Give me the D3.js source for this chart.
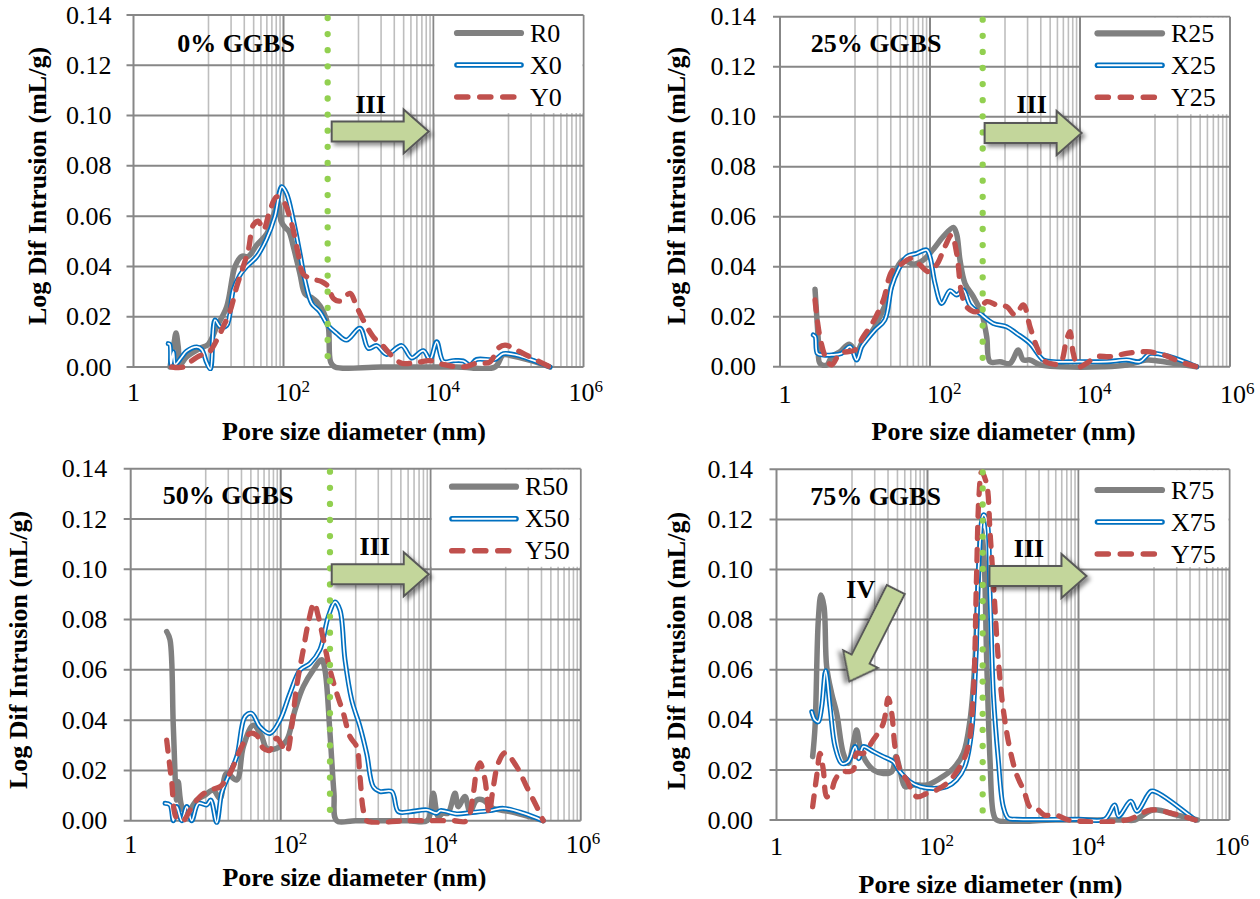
<!DOCTYPE html>
<html><head><meta charset="utf-8">
<script src="https://cdn.jsdelivr.net/npm/d3@7"></script>
<style>
html,body{margin:0;padding:0;background:#fff;}
svg{display:block;}
</style></head><body>
<svg id="chart" width="1260" height="899" font-family="'Liberation Serif', 'Times New Roman', Tinos, 'Nimbus Roman', 'DejaVu Serif', serif"></svg>
<script>
// ================= DATA =================
const panelTitles = ["0% GGBS", "25% GGBS", "50% GGBS", "75% GGBS"];
const seriesNames = [["R0","X0","Y0"],["R25","X25","Y25"],["R50","X50","Y50"],["R75","X75","Y75"]];
const yTicks = [0, 0.02, 0.04, 0.06, 0.08, 0.10, 0.12, 0.14];
const yTickLabels = ["0.00","0.02","0.04","0.06","0.08","0.10","0.12","0.14"];
const xTickExponents = [0, 2, 4, 6];
const xTitle = "Pore size diameter (nm)";
const yTitle = "Log Dif Intrusion (mL/g)";
const boundaryNm = [388, 504, 454, 538];   // green dotted boundary per panel (nm)

// [pore diameter (nm), log differential intrusion (mL/g)]
const R0 = [[3.07,0],[3.45,0.009],[3.69,0.0135],[3.95,0.008],[4.2,0.001],[5.1,0.004],[7.7,0.0074],[9.9,0.009],[12.9,0.016],[17.5,0.024],[22.6,0.040],[27.7,0.044],[34,0.044],[44,0.0485],[60,0.053],[73,0.060],[85,0.0655],[93,0.058],[105,0.0555],[118,0.054],[135,0.048],[166,0.037],[194,0.029],[240,0.0275],[277,0.026],[340,0.022],[396,0.016],[425,0.002],[486,0],[2000,0],[20000,0],[66000,0],[84500,0.0048],[105000,0.0046],[200000,0.0025],[357000,0]];
const X0 = [[2.9,0.0093],[3.05,0.009],[3.15,0.001],[3.4,0.006],[3.6,0.001],[4.4,0.004],[5.1,0.0063],[7.0,0.008],[8.1,0.007],[9.5,0.0016],[10.6,-0.0008],[12.2,0.0187],[14.3,0.016],[17.5,0.0165],[21.4,0.0306],[26.3,0.0366],[32.3,0.040],[44,0.0439],[59.7,0.051],[76.9,0.060],[94.6,0.0717],[110,0.069],[134.6,0.0586],[165.6,0.0452],[193,0.0346],[238,0.0253],[305,0.022],[393,0.0165],[510,0.0134],[690,0.0107],[1047,0.0154],[1352,0.0074],[1750,0.0085],[2377,0.005],[3767,0.0085],[5117,0.0036],[7307,0.0065],[8980,0.003],[11040,0.010],[13520,0.0022],[18350,0.0025],[24950,0.0024],[30670,0.0008],[37660,0.003],[66070,0.003],[85300,0.0053],[128600,0.0047],[357500,0]];
const Y0 = [[3.23,0],[4.6,0],[5.67,0.002],[7.7,0.0045],[9.9,0.0055],[12.9,0.0107],[15.7,0.016],[19.3,0.022],[23.8,0.032],[29.1,0.040],[34,0.0465],[39.6,0.0565],[46.1,0.058],[53.8,0.0545],[66,0.0624],[81,0.0677],[99.3,0.066],[128.5,0.057],[157,0.045],[183.6,0.037],[237.7,0.035],[323,0.034],[395,0.032],[461,0.0273],[567,0.0262],[770,0.0293],[946,0.024],[1158,0.0186],[1575,0.012],[2142,0.0082],[2772,0.0045],[3767,0.0015],[5970,0.0018],[8980,0.0025],[13520,0.001],[24950,0],[37660,0.0015],[56640,0.002],[73100,0.0075],[89800,0.0087],[128600,0.0067],[193600,0.004],[357500,0]];

const R25 = [[2.93,0.031],[3.24,0.0107],[3.41,0.0013],[4.2,0.0007],[4.9,0.004],[6.3,0.006],[8.4,0.009],[10.5,0.006],[12.9,0.0107],[16.7,0.014],[21.5,0.020],[27.8,0.028],[36,0.0393],[44,0.0427],[60,0.041],[81.5,0.0427],[110.8,0.047],[150,0.052],[205,0.0557],[227,0.053],[251,0.0427],[293,0.0333],[378,0.028],[489,0.0213],[570,0.012],[631,0.002],[858,0.002],[1166,0.0013],[1506,0.0067],[1754,0.0027],[2154,0.0027],[2929,0.0007],[5412,0],[20480,0],[41900,0.0007],[77400,0.0027],[158500,0.0016],[359000,0]];
const X25 = [[2.78,0.0127],[2.95,0.012],[3.15,0.0053],[3.8,0.0047],[4.9,0.0047],[6.6,0.0053],[8.6,0.008],[10.5,0.0027],[12.3,0.008],[14.3,0.0107],[18.5,0.0147],[25,0.0187],[30.8,0.032],[37.8,0.0387],[48.9,0.044],[66.4,0.0453],[90.3,0.0467],[100,0.044],[116.6,0.0333],[143,0.0253],[185,0.0304],[227,0.0287],[278,0.0307],[341,0.0247],[464,0.0213],[699,0.0173],[1052,0.016],[1431,0.0133],[2154,0.0093],[3245,0.0027],[4407,0.002],[10000,0.002],[22700,0.002],[41900,0.0027],[63100,0.002],[85800,0.0053],[158500,0.004],[359000,0]];
const Y25 = [[2.93,0.0267],[3.4,0.012],[4.2,0.0027],[4.9,0.0007],[6.3,0.0053],[10,0.0067],[12.9,0.012],[17.5,0.018],[23.9,0.0267],[30.8,0.038],[39.8,0.0407],[56.8,0.0433],[73.6,0.0407],[95,0.038],[122,0.0407],[158,0.048],[194,0.0527],[227,0.0453],[264,0.0293],[306,0.024],[417,0.022],[570,0.026],[777,0.0247],[1052,0.024],[1365,0.0207],[1754,0.0247],[2154,0.016],[2650,0.008],[3245,0.0027],[3981,0.0013],[5412,0.0013],[6600,0.0107],[7350,0.014],[8140,0.0053],[9460,0],[12160,0.0013],[16500,0.004],[25100,0.004],[41900,0.0053],[77400,0.006],[131000,0.0047],[215000,0.002],[359000,0]];

const R50 = [[3.02,0.0752],[3.34,0.072],[3.7,0.0374],[4.1,0.0082],[4.3,0.0155],[4.8,0.0056],[5.6,0.003],[7.6,0.0082],[9.8,0.0102],[12.6,0.0122],[15.5,0.0088],[19,0.0188],[25.9,0.0162],[31.7,0.0294],[43,0.038],[55.8,0.0334],[65,0.0288],[88.4,0.0288],[120,0.032],[155,0.044],[200,0.0533],[272,0.060],[352,0.064],[389,0.060],[454,0.0348],[513,0.0109],[558,0],[1000,0],[5000,0],[9000,0],[10800,0.0109],[12600,0.0016],[14500,0.003],[17000,0.003],[21100,0.0109],[23300,0.0056],[28600,0.0096],[33400,0.0036],[41000,0.0082],[50100,0.0082],[68400,0.0049],[114000,0.0036],[316000,0]];
const X50 = [[2.87,0.0069],[3.34,0.0063],[3.7,0],[4.1,0.0056],[4.8,0],[5.6,0.0056],[6.5,0],[7.98,0.0069],[10.3,0.0063],[11.7,0.0082],[14,-0.0008],[16.3,0.0109],[19,0.0162],[25.9,0.0254],[33.4,0.0414],[41,0.0427],[52.7,0.0374],[71.8,0.0347],[97.7,0.040],[133,0.0507],[182,0.060],[247,0.0626],[333,0.068],[431,0.0812],[530,0.087],[617,0.0838],[720,0.064],[885,0.048],[1141,0.0374],[1400,0.0267],[1718,0.0135],[2110,0.0116],[3020,0.0116],[3700,0.0036],[5300,0.0036],[8850,0.0043],[12000,0.003],[13500,0.004],[22200,0.0027],[33400,0.0032],[61700,0.004],[93000,0.0049],[172000,0.003],[316000,0]];
const Y50 = [[3.02,0.032],[3.5,0.0162],[4.1,0.001],[5.0,0],[6.2,0.0043],[8.4,0.0096],[11.4,0.0122],[15.5,0.0135],[21,0.0188],[28.6,0.028],[39,0.0347],[47.7,0.034],[58.6,0.0288],[71.8,0.028],[88,0.0328],[120,0.0274],[140,0.0374],[163,0.0533],[200,0.068],[233,0.0786],[278,0.0865],[318,0.0812],[372,0.0719],[454,0.060],[558,0.0507],[685,0.0427],[840,0.0334],[1030,0.0294],[1140,0.0175],[1260,0.0043],[1400,0],[5000,0],[20000,0],[30000,0],[37000,0.0109],[41000,0.020],[45400,0.023],[53000,0.0162],[60000,0.003],[68400,0.0135],[79400,0.0228],[97700,0.027],[140000,0.0215],[190500,0.0135],[259000,0.0056],[316000,0]];

const R75 = [[3.01,0.0253],[3.24,0.0372],[3.58,0.0798],[3.88,0.0898],[4.26,0.0852],[4.62,0.0612],[5.38,0.0505],[6.27,0.0426],[7.67,0.0266],[8.93,0.0226],[10.4,0.0306],[11.5,0.0359],[12.8,0.0293],[14.9,0.024],[19.2,0.020],[26,0.0186],[33.6,0.0193],[38.3,0.0253],[43.2,0.020],[50.4,0.0133],[64.9,0.014],[97.7,0.014],[146,0.0166],[220,0.0206],[298,0.0266],[366,0.0399],[426,0.0639],[471,0.097],[515,0.116],[560,0.105],[608,0.064],[673,0.024],[745,0.0027],[825,0],[5000,0],[40000,0],[55700,0],[97000,0.004],[200000,0.002],[377000,0]];
const X75 = [[2.93,0.0432],[3.24,0.0399],[3.58,0.0392],[3.97,0.0452],[4.48,0.0596],[5.11,0.0452],[5.96,0.0293],[7.3,0.0226],[8.93,0.0233],[11,0.0293],[12.3,0.0245],[14.1,0.0293],[19.2,0.0273],[26,0.0253],[35.2,0.0233],[43.2,0.0193],[58.6,0.0153],[80,0.0133],[118,0.0126],[180,0.0133],[242,0.016],[312,0.0213],[382,0.0346],[437,0.0639],[482,0.1038],[550,0.1218],[608,0.12],[673,0.0905],[745,0.0505],[867,0.024],[1009,0.0053],[1175,0.0007],[1500,0.0003],[10000,0.0003],[22200,0.0003],[30200,0.006],[34000,0.0015],[49300,0.0075],[59400,0.0035],[91200,0.0115],[110000,0.011],[353000,0]];
const Y75 = [[3.01,0.0053],[3.4,0.0173],[3.77,0.0266],[4.17,0.020],[4.62,0.0093],[5.22,0.0106],[5.96,0.016],[7.3,0.0193],[8.93,0.0193],[10.4,0.020],[11.5,0.0266],[14.1,0.0266],[19.2,0.032],[26,0.0386],[30.2,0.0486],[33.6,0.0426],[37.1,0.0293],[43.2,0.020],[53,0.016],[72,0.0093],[97.7,0.0106],[132,0.012],[180,0.0146],[270,0.0213],[346,0.0293],[405,0.0506],[446,0.097],[482,0.130],[522,0.139],[608,0.134],[673,0.115],[745,0.095],[867,0.064],[1009,0.044],[1240,0.028],[1520,0.018],[1900,0.0115],[2300,0.005],[2800,0.0045],[3500,0.002],[5000,0.002],[7500,0],[43600,0],[91200,0.004],[180000,0.0025],[353000,0]];

const panelData = [[R0, X0, Y0], [R25, X25, Y25], [R50, X50, Y50], [R75, X75, Y75]];

// ================= LAYOUT =================
const layout = [
  {left:133.5, right:583.5, top:15,   bottom:367,   yLabX:-22, yTitle:[46,186],  xLabBase:401, xLabShift:0, xTitle:[354,439.5], title:[236,51.7], leg:{x1:454,x2:524,tx:530,y0:33},   arrow:{nm:439, v:0.0937, tx:39, ty:-18}},
  {left:780,   right:1230,  top:16.7, bottom:366.7, yLabX:-24, yTitle:[685,186], xLabBase:403, xLabShift:5, xTitle:[1003.6,440], title:[876,51.7], leg:{x1:1094.5,x2:1165,tx:1171,y0:33.3}, arrow:{nm:535, v:0.0935, tx:47, ty:-20}},
  {left:130.7, right:580.7, top:468.7,bottom:820.7, yLabX:-23.5, yTitle:[26.6,650], xLabBase:853, xLabShift:0, xTitle:[354.4,886], title:[228,504], leg:{x1:449,x2:519,tx:525,y0:486.7}, arrow:{nm:479, v:0.0980, tx:43, ty:-19}},
  {left:776.5, right:1229.5,top:469.3,bottom:820,   yLabX:-23.5, yTitle:[685,651], xLabBase:855, xLabShift:0, xTitle:[990.5,893], title:[875.5,505], leg:{x1:1094.5,x2:1165,tx:1171,y0:490}, arrow:{nm:662, v:0.0974, tx:39.5, ty:-19.3}}
];

const FONT = 26;
const FF = "'Liberation Serif', 'Times New Roman', Tinos, 'Nimbus Roman', 'DejaVu Serif', serif";
const GRID_MAJOR = "#878787", GRID_MINOR = "#BEBEBE";
const C_R = "#808080", C_X = "#0070C0", C_Y = "#C0504D", C_G = "#92D050";

const svg = d3.select("#chart");
const defs = svg.append("defs");
const flt = defs.append("filter").attr("id","shadow").attr("x","-30%").attr("y","-30%").attr("width","170%").attr("height","170%");
flt.append("feDropShadow").attr("dx",3).attr("dy",3).attr("stdDeviation",2).attr("flood-color","#000").attr("flood-opacity",0.45);

const minorVals = [];
[1,3,5].forEach(k => { for (let m = 1; m <= 9; m++) minorVals.push(m * Math.pow(10,k)); });
const majorVals = [1, 1e2, 1e4, 1e6];

function arrowPath(L, bh, hh, hl) {
  return `M0,${-bh}L${L-hl},${-bh}L${L-hl},${-hh}L${L},0L${L-hl},${hh}L${L-hl},${bh}L0,${bh}Z`;
}
function txt(sel) { return sel.append("text").attr("font-family", FF).attr("fill", "#000"); }

layout.forEach((P, i) => {
  const x = d3.scaleLog().domain([1, 1e6]).range([P.left, P.right]);
  const y = d3.scaleLinear().domain([0, 0.14]).range([P.bottom, P.top]);
  const g = svg.append("g");

  g.selectAll(".mv").data(minorVals).enter().append("line")
    .attr("x1", d => x(d)).attr("x2", d => x(d)).attr("y1", P.top).attr("y2", P.bottom)
    .attr("stroke", GRID_MINOR).attr("stroke-width", 1.6);
  g.selectAll(".hg").data(yTicks).enter().append("line")
    .attr("x1", P.left - 7).attr("x2", P.right).attr("y1", d => y(d)).attr("y2", d => y(d))
    .attr("stroke", GRID_MAJOR).attr("stroke-width", 2);
  g.selectAll(".Mv").data(majorVals).enter().append("line")
    .attr("x1", d => x(d)).attr("x2", d => x(d)).attr("y1", P.top).attr("y2", P.bottom)
    .attr("stroke", GRID_MAJOR).attr("stroke-width", 2);

  g.append("rect").attr("x", x(1e4) + 1).attr("y", P.top + 1)
    .attr("width", P.right - x(1e4) - 2).attr("height", y(0.10) - 2.5 - P.top - 1)
    .attr("fill", "#fff");

  const cid = "clip" + i;
  defs.append("clipPath").attr("id", cid).append("rect")
    .attr("x", P.left).attr("y", P.top).attr("width", P.right - P.left).attr("height", P.bottom - P.top + 4);

  const line = d3.line().x(d => x(d[0])).y(d => y(d[1])).curve(d3.curveCatmullRom.alpha(0.5));
  const [sR, sX, sY] = panelData[i];
  const cg = g.append("g").attr("clip-path", `url(#${cid})`);
  cg.append("path").attr("d", line(sR)).attr("fill","none").attr("stroke", C_R).attr("stroke-width", 5.5)
    .attr("stroke-linejoin","round").attr("stroke-linecap","round");
  cg.append("path").attr("d", line(sX)).attr("fill","none").attr("stroke", C_X).attr("stroke-width", 5)
    .attr("stroke-linejoin","round").attr("stroke-linecap","round");
  cg.append("path").attr("d", line(sX)).attr("fill","none").attr("stroke", "#fff").attr("stroke-width", 1.7)
    .attr("stroke-linejoin","round").attr("stroke-linecap","round");
  cg.append("path").attr("d", line(sY)).attr("fill","none").attr("stroke", C_Y).attr("stroke-width", 5.3)
    .attr("stroke-dasharray","11,11").attr("stroke-linejoin","round").attr("stroke-linecap","round");

  g.append("line").attr("x1", x(boundaryNm[i])).attr("x2", x(boundaryNm[i]))
    .attr("y1", P.top + 3).attr("y2", P.bottom)
    .attr("stroke", C_G).attr("stroke-width", 6.3).attr("stroke-linecap","round").attr("stroke-dasharray","0,16.1");

  const ax = x(P.arrow.nm), ay = y(P.arrow.v);
  g.append("path").attr("d", arrowPath(97, 10, 22, 25))
    .attr("transform", `translate(${ax},${ay})`)
    .attr("fill", "#C3D69B").attr("stroke", "#595959").attr("stroke-width", 2)
    .attr("filter", "url(#shadow)");
  txt(g).attr("x", ax + P.arrow.tx).attr("y", ay + P.arrow.ty).attr("text-anchor","middle")
    .attr("font-size", FONT).attr("font-weight","bold").text("III");

  if (i === 3) {
    const bx = x(38), by = y(0.092);
    g.append("path").attr("d", arrowPath(103, 10, 19.5, 25))
      .attr("transform", `translate(${bx},${by}) rotate(116.8)`)
      .attr("fill", "#C3D69B").attr("stroke", "#595959").attr("stroke-width", 2)
      .attr("filter", "url(#shadow)");
    txt(g).attr("x", bx - 35).attr("y", by + 8.5).attr("text-anchor","middle")
      .attr("font-size", FONT).attr("font-weight","bold").text("IV");
  }

  const Lg = P.leg;
  [0,1,2].forEach(r => {
    const ly = Lg.y0 + r * 32;
    if (r === 0) {
      g.append("line").attr("x1", Lg.x1 + 3).attr("x2", Lg.x2 - 3).attr("y1", ly).attr("y2", ly)
        .attr("stroke", C_R).attr("stroke-width", 6.2).attr("stroke-linecap","round");
    } else if (r === 1) {
      g.append("line").attr("x1", Lg.x1 + 3).attr("x2", Lg.x2 - 3).attr("y1", ly).attr("y2", ly)
        .attr("stroke", C_X).attr("stroke-width", 5.6).attr("stroke-linecap","round");
      g.append("line").attr("x1", Lg.x1 + 3.5).attr("x2", Lg.x2 - 3.5).attr("y1", ly).attr("y2", ly)
        .attr("stroke", "#fff").attr("stroke-width", 2).attr("stroke-linecap","round");
    } else {
      g.append("line").attr("x1", Lg.x1 + 2.8).attr("x2", Lg.x2 - 2.8).attr("y1", ly).attr("y2", ly)
        .attr("stroke", C_Y).attr("stroke-width", 5.6).attr("stroke-linecap","round").attr("stroke-dasharray","11,12");
    }
    txt(g).attr("x", Lg.tx).attr("y", ly + 8.5).attr("font-size", FONT).text(seriesNames[i][r]);
  });

  yTicks.forEach((d, j) => {
    txt(g).attr("x", P.left + P.yLabX).attr("y", y(d) + 8.6).attr("text-anchor","end")
      .attr("font-size", FONT).text(yTickLabels[j]);
  });

  xTickExponents.forEach(e => {
    const t = txt(g).attr("y", P.xLabBase).attr("font-size", FONT);
    if (e === 0) {
      t.attr("x", x(1) + P.xLabShift).attr("text-anchor","middle").text("1");
    } else {
      t.attr("x", x(Math.pow(10, e)) + P.xLabShift + (e === 6 ? -15 : -8));
      t.append("tspan").text("10");
      t.append("tspan").attr("font-size", 17).attr("dy", -9).text(String(e));
    }
  });

  txt(g).attr("x", P.xTitle[0]).attr("y", P.xTitle[1]).attr("text-anchor","middle")
    .attr("font-size", FONT).attr("font-weight","bold").text(xTitle);
  txt(g).attr("transform", `translate(${P.yTitle[0]},${P.yTitle[1]}) rotate(-90)`)
    .attr("text-anchor","middle").attr("font-size", FONT).attr("font-weight","bold").text(yTitle);
  txt(g).attr("x", P.title[0]).attr("y", P.title[1]).attr("text-anchor","middle")
    .attr("font-size", FONT).attr("font-weight","bold").text(panelTitles[i]);
});
</script>
</body></html>
